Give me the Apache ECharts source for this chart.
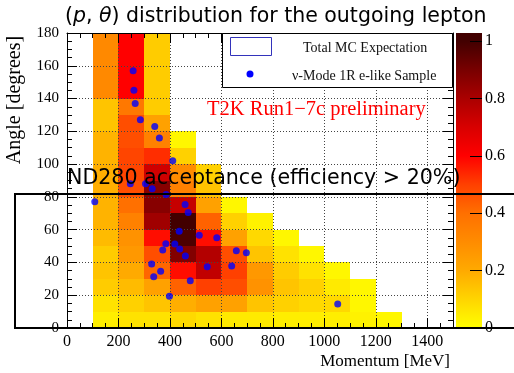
<!DOCTYPE html>
<html>
<head>
<meta charset="utf-8">
<title>(p, θ) distribution for the outgoing lepton</title>
<script src="https://cdn.jsdelivr.net/npm/echarts@6/dist/echarts.min.js"></script>
<style>
body { margin: 0; background: #fff; }
#chart { width: 514px; height: 373px; }
</style>
</head>
<body>
<div id="chart"></div>
<script>
// bin sizes of the MC histogram
const pBinWidth = 100;     // MeV
const thetaBinWidth = 10;  // degrees

// lower momentum edge of each filled column
const pBinLow = [100, 200, 300, 400, 500, 600, 700, 800, 900, 1000, 1100, 1200];

// MC expectation (relative), one list per momentum column, angle bins from 0-10 deg upward
const mc100 = [0.04, 0.07, 0.12, 0.14, 0.12, 0.16, 0.18, 0.18, 0.19, 0.19, 0.18, 0.18, 0.14, 0.14, 0.31, 0.31, 0.31, 0.31];
const mc200 = [0.07, 0.11, 0.16, 0.20, 0.26, 0.28, 0.34, 0.40, 0.47, 0.49, 0.49, 0.47, 0.47, 0.37, 0.60, 0.60, 0.60, 0.60];
const mc300 = [0.07, 0.14, 0.23, 0.42, 0.47, 0.58, 0.82, 0.87, 0.87, 0.72, 0.53, 0.34, 0.23, 0.12, 0.12, 0.12, 0.12, 0.12];
const mc400 = [0.09, 0.19, 0.43, 0.58, 0.88, 0.98, 1.00, 0.74, 0.34, 0.30, 0.11, 0.02];
const mc500 = [0.07, 0.23, 0.50, 0.75, 0.78, 0.58, 0.43, 0.23, 0.14, 0.11];
const mc600 = [0.05, 0.23, 0.47, 0.50, 0.47, 0.23, 0.11, 0.02];
const mc700 = [0.05, 0.14, 0.28, 0.26, 0.14, 0.09, 0.03];
const mc800 = [0.04, 0.11, 0.14, 0.12, 0.07, 0.02];
const mc900 = [0.04, 0.09, 0.11, 0.07, 0.02];
const mc1000 = [0.04, 0.09, 0.05, 0.02];
const mc1100 = [0.03, 0.02, 0.02];
const mc1200 = [0.02];
const mcColumns = [mc100, mc200, mc300, mc400, mc500, mc600, mc700, mc800, mc900, mc1000, mc1100, mc1200];

// observed nu-mode 1R e-like events
const eventP = [257, 260, 265, 285, 341, 359, 411, 246, 305, 331, 385, 108, 459, 471, 436, 514, 582, 384, 419, 372, 438, 460, 658, 697, 329, 545, 640, 364, 337, 479, 398, 1052];
const eventTheta = [157, 145, 137, 127, 123, 116, 102, 88, 88, 85, 81.5, 77, 75.4, 70.5, 59, 56.6, 55, 51.4, 51.2, 47.6, 48.2, 43.9, 47.1, 45.9, 39, 37.4, 37.8, 34.6, 31.3, 28.9, 19.3, 14.6];

const colorbarMax = 1.028;

// yellow -> orange -> red -> dark brown
const palette = ['#ffff00', '#ffd500', '#ffaa00', '#ff8c00', '#ff7000', '#ff4000',
                 '#ff0000', '#d80000', '#aa0000', '#780000', '#420000'];

const cells = [];
mcColumns.forEach(function (col, i) {
  col.forEach(function (v, j) {
    cells.push([pBinLow[i], j * thetaBinWidth, v]);
  });
});
const events = eventP.map(function (p, i) { return [p, eventTheta[i]]; });

const serif = '"Liberation Serif", "Times New Roman", serif';
const sans = '"DejaVu Sans", sans-serif';

function frameAxis(extra) {
  return Object.assign({
    type: 'value',
    z: 3,
    axisLine: { show: true, onZero: false, lineStyle: { color: '#000', width: 1 } },
    axisTick: { show: true, inside: true, length: 10, lineStyle: { color: '#000' } },
    minorTick: { show: true, splitNumber: 4, length: 5, lineStyle: { color: '#000' } },
    axisLabel: { show: false },
    splitLine: { show: false }
  }, extra);
}

const gridLine = { show: true, lineStyle: { color: '#444', type: [1, 2], width: 1 } };
const plain = function (v) { return String(v); };

const stops = palette.map(function (c, i) {
  return { offset: (i / 10) / colorbarMax, color: c };
});
stops.push({ offset: 1, color: palette[palette.length - 1] });

const chart = echarts.init(document.getElementById('chart'), null, { renderer: 'canvas' });
chart.setOption({
  animation: false,
  backgroundColor: '#fff',
  title: {
    text: '({i|p}, {i|θ}) distribution for the outgoing lepton',
    left: 60,
    top: 1,
    textStyle: {
      fontFamily: sans, fontSize: 20.5, fontWeight: 'normal', color: '#000',
      rich: { i: { fontFamily: sans, fontSize: 20.5, fontStyle: 'italic', color: '#000' } }
    }
  },
  grid: [
    { left: 67, top: 33, width: 386, height: 295 },
    { left: 456, top: 33, width: 26, height: 295 }
  ],
  xAxis: [
    frameAxis({
      gridIndex: 0, position: 'bottom', min: 0, max: 1500, interval: 200,
      axisLabel: { show: true, showMaxLabel: false, formatter: plain, color: '#000', fontFamily: serif, fontSize: 16, margin: 6 },
      splitLine: gridLine
    }),
    frameAxis({ gridIndex: 0, position: 'top', min: 0, max: 1500, interval: 200 }),
    { type: 'category', gridIndex: 1, data: ['palette'], show: false }
  ],
  yAxis: [
    frameAxis({
      gridIndex: 0, position: 'left', min: 0, max: 180, interval: 20,
      axisLabel: { show: true, formatter: plain, color: '#000', fontFamily: serif, fontSize: 15, margin: 8 },
      splitLine: gridLine
    }),
    frameAxis({ gridIndex: 0, position: 'right', min: 0, max: 180, interval: 20 }),
    {
      type: 'value', gridIndex: 1, position: 'right', min: 0, max: colorbarMax, interval: 0.2, z: 3,
      axisLine: { show: false },
      axisTick: { show: true, inside: true, length: 12, lineStyle: { color: '#000' } },
      axisLabel: { show: true, showMaxLabel: false, color: '#000', fontFamily: serif, fontSize: 16, margin: 3 },
      splitLine: { show: false }
    }
  ],
  visualMap: {
    show: false, type: 'continuous', seriesIndex: 0, dimension: 2,
    min: 0, max: 1, inRange: { color: palette }
  },
  series: [
    {
      name: 'Total MC Expectation',
      type: 'custom',
      xAxisIndex: 0, yAxisIndex: 0,
      data: cells,
      encode: { x: 0, y: 1 },
      renderItem: function (params, api) {
        const p = api.value(0), t = api.value(1);
        const a = api.coord([p, t + thetaBinWidth]);
        const b = api.coord([p + pBinWidth, t]);
        const x0 = Math.round(a[0]), y0 = Math.round(a[1]);
        return {
          type: 'rect',
          shape: { x: x0, y: y0, width: Math.round(b[0]) - x0, height: Math.round(b[1]) - y0 },
          style: { fill: api.visual('color') }
        };
      }
    },
    {
      name: 'ν-Mode 1R e-like Sample',
      type: 'scatter',
      xAxisIndex: 0, yAxisIndex: 0,
      z: 10,
      symbol: 'circle', symbolSize: 7,
      itemStyle: { color: '#0000ff' },
      data: events
    },
    {
      type: 'bar',
      xAxisIndex: 2, yAxisIndex: 2,
      barWidth: '100%',
      z: 1,
      itemStyle: { color: new echarts.graphic.LinearGradient(0, 1, 0, 0, stops) },
      data: [colorbarMax]
    }
  ],
  graphic: [
    // legend
    { type: 'rect', z: 100, shape: { x: 222.5, y: 33.5, width: 230, height: 54 },
      style: { fill: '#fff', stroke: '#000', lineWidth: 1 } },
    { type: 'rect', z: 101, shape: { x: 230.5, y: 37.5, width: 41, height: 18 },
      style: { fill: 'none', stroke: '#3333bb', lineWidth: 1 } },
    { type: 'text', z: 101, x: 303, y: 48,
      style: { text: 'Total MC Expectation', font: '14px ' + serif, fill: '#111', verticalAlign: 'middle' } },
    { type: 'circle', z: 101, shape: { cx: 250, cy: 74, r: 3.5 }, style: { fill: '#0000ff' } },
    { type: 'text', z: 101, x: 292, y: 76,
      style: { text: 'ν-Mode 1R e-like Sample', font: '14px ' + serif, fill: '#111', verticalAlign: 'middle' } },
    // label
    { type: 'text', z: 100, x: 207, y: 110,
      style: { text: 'T2K Run1−7c preliminary', font: '20.5px ' + serif, fill: '#ff0000', verticalAlign: 'middle' } },
    // acceptance region
    { type: 'text', z: 100, x: 67, y: 179,
      style: { text: 'ND280 acceptance (efficiency > 20%)', font: '20.6px ' + sans, fill: '#000', verticalAlign: 'middle' } },
    { type: 'rect', z: 100, shape: { x: 15, y: 194, width: 530, height: 134 },
      style: { fill: 'none', stroke: '#000', lineWidth: 2 } },
    // axis titles
    { type: 'text', z: 100, x: 15, y: 100, rotation: Math.PI / 2,
      style: { text: 'Angle [degrees]', font: '20px ' + serif, fill: '#000', align: 'center', verticalAlign: 'middle' } },
    { type: 'text', z: 100, x: 450, y: 362,
      style: { text: 'Momentum [MeV]', font: '17px ' + serif, fill: '#000', align: 'right', verticalAlign: 'middle' } }
  ]
});
</script>
</body>
</html>
